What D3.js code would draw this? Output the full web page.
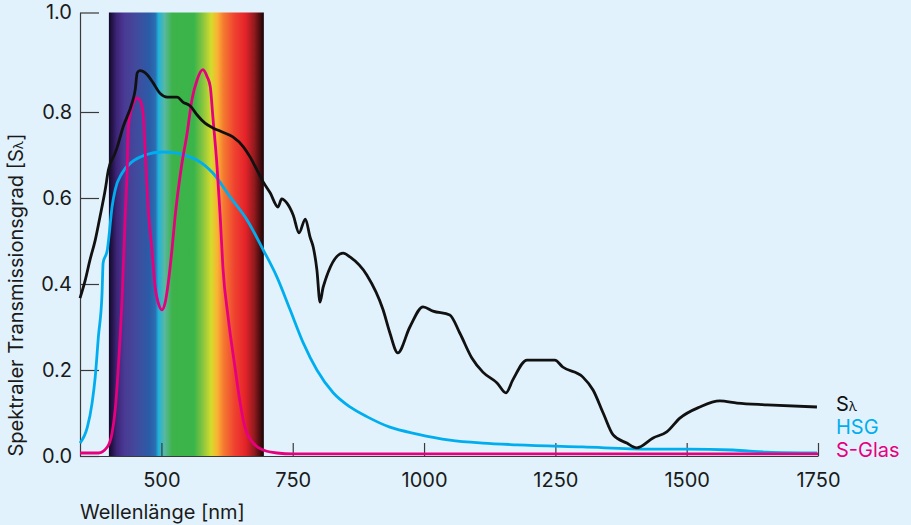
<!DOCTYPE html>
<html>
<head>
<meta charset="utf-8">
<script src="https://d3js.org/d3.v7.min.js"></script>
<style>
  html, body { margin: 0; padding: 0; background: #e1f2fc; }
  svg { display: block; font-family: "Inter", "Roboto", sans-serif; }
  .axis path, .axis line { stroke: #3a3a3a; stroke-width: 1.2; }
  .axis text { font-size: 20px; fill: #1a1a1a; font-family: "Inter", "Roboto", sans-serif; }
</style>
</head>
<body>
<svg width="911" height="525"></svg>
<script>
// wavelengths (nm) and transmission values
var sLambda = [345, 355, 364, 374, 383, 393, 399, 412, 416, 427, 444, 450, 454, 459, 473, 484, 497, 511, 530, 541, 555, 568, 583, 598, 617, 636, 656, 669, 682, 694, 707, 722, 729, 739, 751, 762, 774, 783, 789, 796, 802, 808, 846, 859, 891, 922, 935, 950, 973, 998, 1017, 1049, 1068, 1091, 1112, 1139, 1156, 1169, 1196, 1249, 1264, 1302, 1322, 1341, 1360, 1386, 1405, 1436, 1462, 1487, 1525, 1563, 1596, 1653, 1748];
var sValues = [0.367, 0.409, 0.456, 0.502, 0.556, 0.619, 0.665, 0.705, 0.719, 0.765, 0.818, 0.844, 0.879, 0.883, 0.875, 0.859, 0.838, 0.830, 0.830, 0.820, 0.812, 0.793, 0.774, 0.763, 0.753, 0.742, 0.719, 0.695, 0.665, 0.637, 0.612, 0.579, 0.598, 0.588, 0.560, 0.519, 0.551, 0.509, 0.486, 0.433, 0.358, 0.393, 0.472, 0.463, 0.421, 0.340, 0.286, 0.240, 0.300, 0.347, 0.337, 0.328, 0.286, 0.228, 0.195, 0.170, 0.147, 0.177, 0.223, 0.223, 0.207, 0.184, 0.153, 0.100, 0.049, 0.030, 0.019, 0.042, 0.056, 0.088, 0.114, 0.128, 0.123, 0.119, 0.114];

var hsgLambda = [345, 359, 368, 374, 380, 387, 389, 397, 400, 406, 412, 425, 444, 469, 501, 526, 555, 568, 598, 631, 663, 694, 720, 745, 770, 796, 827, 859, 892, 935, 987, 1049, 1112, 1177, 1302, 1430, 1500, 1588, 1653, 1748];
var hsgValues = [0.030, 0.067, 0.123, 0.184, 0.277, 0.379, 0.449, 0.479, 0.509, 0.579, 0.619, 0.658, 0.684, 0.700, 0.707, 0.705, 0.695, 0.688, 0.658, 0.602, 0.549, 0.479, 0.416, 0.340, 0.263, 0.200, 0.147, 0.114, 0.091, 0.067, 0.051, 0.037, 0.030, 0.026, 0.021, 0.016, 0.016, 0.014, 0.009, 0.007];

var glasLambda = [345, 380, 397, 406, 412, 418, 425, 431, 435, 437, 444, 454, 459, 465, 469, 475, 482, 488, 494, 501, 507, 513, 520, 526, 538, 549, 558, 568, 579, 587, 593, 598, 606, 612, 617, 627, 640, 650, 659, 675, 694, 720, 751, 1750];
var glasValues = [0.007, 0.007, 0.021, 0.053, 0.107, 0.207, 0.363, 0.556, 0.672, 0.765, 0.810, 0.828, 0.824, 0.798, 0.712, 0.572, 0.479, 0.393, 0.356, 0.340, 0.356, 0.402, 0.479, 0.556, 0.672, 0.751, 0.824, 0.865, 0.885, 0.871, 0.851, 0.788, 0.672, 0.556, 0.440, 0.323, 0.207, 0.123, 0.067, 0.030, 0.014, 0.007, 0.005, 0.005];

var xTicks = [500, 750, 1000, 1250, 1500, 1750];
var yTicks = [0, 0.2, 0.4, 0.6, 0.8, 1.0];

// visible spectrum band
var bandStart = 400, bandEnd = 695;
var bandOffsets = [0, 0.05, 0.10, 0.18, 0.26, 0.30, 0.32, 0.36, 0.41, 0.55, 0.61, 0.66, 0.70, 0.74, 0.81, 0.88, 0.94, 1];
var bandColors = ["#120828", "#3d2478", "#4a3a94", "#414b9d", "#2a5ba7", "#2b6eb2", "#1fb3dc", "#5ab8a0", "#3db34a", "#3ab54a", "#8cc63f", "#d4dc2b", "#fab234", "#f47a30", "#ef4330", "#e5232a", "#8f1a1d", "#1a0305"];

var seriesNames = ["S", "HSG", "S-Glas"];
var seriesColors = ["#111111", "#00aeef", "#e6007e"];

drawChart();

function drawChart() {
  var svg = d3.select("svg");

  // the original y axis is not evenly spaced above 0.8
  var x = d3.scaleLinear().domain([345, 1750]).range([80, 818]);
  var y = d3.scaleLinear().domain([0, 0.8, 1.0]).range([456, 112, 12.5]);

  var defs = svg.append("defs");
  var grad = defs.append("linearGradient")
    .attr("id", "spectrum")
    .attr("x1", "0").attr("x2", "1").attr("y1", "0").attr("y2", "0");
  grad.selectAll("stop")
    .data(bandOffsets)
    .enter().append("stop")
    .attr("offset", function(d) { return d; })
    .attr("stop-color", function(d, i) { return bandColors[i]; });

  svg.append("rect")
    .attr("x", x(bandStart))
    .attr("y", y(1))
    .attr("width", x(bandEnd) - x(bandStart))
    .attr("height", y(0) - y(1))
    .attr("fill", "url(#spectrum)");

  // axes, ticks point inward
  svg.append("g")
    .attr("class", "axis")
    .attr("transform", "translate(80,0)")
    .call(d3.axisLeft(y).tickValues(yTicks).tickSize(-19).tickSizeOuter(0).tickPadding(8).tickFormat(d3.format(".1f")));

  svg.append("g")
    .attr("class", "axis")
    .attr("transform", "translate(0,456)")
    .call(d3.axisBottom(x).tickValues(xTicks).tickSize(-13).tickSizeOuter(0).tickPadding(17).tickFormat(d3.format("d")));

  var series = [
    { lambda: sLambda, values: sValues },
    { lambda: hsgLambda, values: hsgValues },
    { lambda: glasLambda, values: glasValues }
  ];

  // draw cyan first, then magenta, then black on top
  [1, 2, 0].forEach(function(i) {
    var s = series[i];
    var pts = s.lambda.map(function(l, j) { return [l, s.values[j]]; });
    var line = d3.line()
      .x(function(d) { return x(d[0]); })
      .y(function(d) { return y(d[1]); })
      .curve(d3.curveMonotoneX);
    svg.append("path")
      .datum(pts)
      .attr("d", line)
      .attr("fill", "none")
      .attr("stroke", seriesColors[i])
      .attr("stroke-width", 2.8)
      .attr("stroke-linejoin", "round");
  });

  // legend labels at the right end
  var legend = svg.append("g").attr("font-size", "20px");
  seriesNames.forEach(function(name, i) {
    var t = legend.append("text")
      .attr("x", x(1750) + 18)
      .attr("y", 411 + i * 23)
      .attr("fill", seriesColors[i])
      .text(name);
    if (i == 0) t.append("tspan").attr("font-size", "13px").text("λ");
  });

  svg.append("text")
    .attr("x", 80)
    .attr("y", 519)
    .attr("font-size", "20px")
    .attr("fill", "#1a1a1a")
    .text("Wellenlänge [nm]");

  var yt = svg.append("text")
    .attr("transform", "translate(23,295) rotate(-90)")
    .attr("text-anchor", "middle")
    .attr("font-size", "20px")
    .attr("fill", "#1a1a1a")
    .text("Spektraler Transmissionsgrad [S");
  yt.append("tspan").attr("font-size", "13px").text("λ");
  yt.append("tspan").text("]");
}
</script>
</body>
</html>
